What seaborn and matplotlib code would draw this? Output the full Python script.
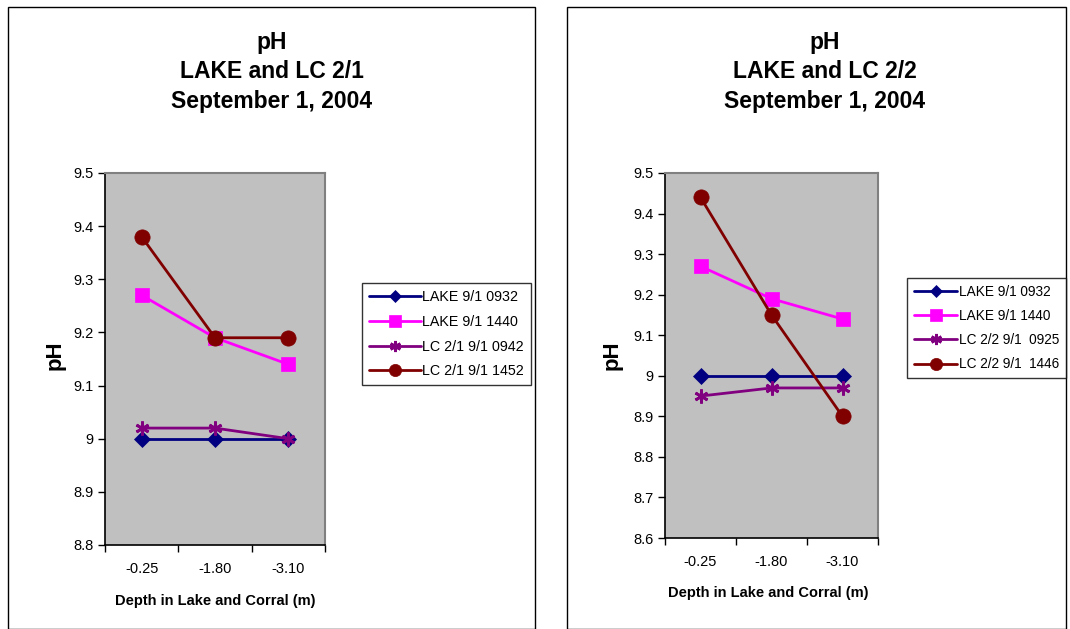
import matplotlib
matplotlib.use("Agg")
import matplotlib.pyplot as plt
from matplotlib.patches import Rectangle
import seaborn as sns
import pandas as pd

depths = ["-0.25", "-1.80", "-3.10"]

# left chart: LAKE and LC 2/1
left_names = ["LAKE 9/1 0932", "LAKE 9/1 1440", "LC 2/1 9/1 0942", "LC 2/1 9/1 1452"]
left_lake_0932 = [9.00, 9.00, 9.00]
left_lake_1440 = [9.27, 9.19, 9.14]
left_lc_0942 = [9.02, 9.02, 9.00]
left_lc_1452 = [9.38, 9.19, 9.19]

# right chart: LAKE and LC 2/2
right_names = ["LAKE 9/1 0932", "LAKE 9/1 1440", "LC 2/2 9/1  0925", "LC 2/2 9/1  1446"]
right_lake_0932 = [9.00, 9.00, 9.00]
right_lake_1440 = [9.27, 9.19, 9.14]
right_lc_0925 = [8.95, 8.97, 8.97]
right_lc_1446 = [9.44, 9.15, 8.90]

colors = ["#000080", "#FF00FF", "#800080", "#800000"]
markers = ["D", "s", (6, 2, 0), "o"]
msizes = [8, 10, 10, 11]

sns.set_theme(style="white")
plt.rcParams["font.family"] = ["Liberation Sans", "DejaVu Sans"]
plt.rcParams["text.color"] = "black"
plt.rcParams["xtick.color"] = "black"
plt.rcParams["ytick.color"] = "black"

W, H = 1070, 629
fig = plt.figure(figsize=(W / 100, H / 100), dpi=100)


def px_axes(x0, y_top, x1, y_bot):
    return fig.add_axes([x0 / W, 1 - y_bot / H, (x1 - x0) / W, (y_bot - y_top) / H])


def draw_panel(ax, names, series, ylim, yticks, title, title_x, leg_xy, ylab_x, xlab_y,
               leg_font, leg_handle):
    ax.set_facecolor("#C0C0C0")
    for name, vals, c, m, ms in zip(names, series, colors, markers, msizes):
        df = pd.DataFrame({"x": range(len(depths)), "y": vals})
        sns.lineplot(data=df, x="x", y="y", ax=ax, color=c, marker=m, markersize=ms,
                     markeredgecolor=c, markeredgewidth=2 if m == (6, 2, 0) else 0.5,
                     linewidth=2, label=name)
    handles, labels = ax.get_legend_handles_labels()
    ax.get_legend().remove()
    ax.set_xlim(-0.5, 2.5)
    ax.set_ylim(*ylim)
    ax.set_yticks(yticks)
    ax.set_yticklabels([f"{t:g}" for t in yticks], fontsize=10.5)
    ax.set_xticks([-0.5, 0.5, 1.5, 2.5])
    ax.set_xticklabels([])
    ax.set_xticks(range(len(depths)), minor=True)
    ax.set_xticklabels(depths, minor=True, fontsize=10.5)
    ax.tick_params(axis="x", which="major", direction="out", length=5, width=1, color="black", bottom=True)
    ax.tick_params(axis="x", which="minor", length=0, pad=12)
    ax.tick_params(axis="y", direction="out", length=5, width=1, color="black", left=True, pad=3)
    ax.set_xlabel("")
    ax.set_ylabel("")
    for s in ["left", "bottom"]:
        ax.spines[s].set_color("black")
        ax.spines[s].set_linewidth(1.2)
    for s in ["top", "right"]:
        ax.spines[s].set_color("#808080")
        ax.spines[s].set_linewidth(1.5)
    fig.text(title_x / W, 1 - 72 / H, title, ha="center", va="center", fontsize=16.5,
             fontweight="bold", linespacing=1.36)
    fig.text(ylab_x / W, 1 - 355 / H, "pH", ha="center", va="center", rotation=90,
             fontsize=16, fontweight="bold")
    fig.text(title_x / W - 57 / W, 1 - xlab_y / H, "Depth in Lake and Corral (m)",
             ha="center", va="center", fontsize=10.5, fontweight="bold")
    leg = fig.legend(handles, labels, loc="upper left",
                     bbox_to_anchor=(leg_xy[0] / W, 1 - leg_xy[1] / H),
                     fontsize=leg_font, frameon=True, fancybox=False, handlelength=leg_handle,
                     borderpad=0.5, labelspacing=0.75, handletextpad=0.1,
                     borderaxespad=0, markerscale=0.8)
    leg.get_frame().set_edgecolor("black")
    leg.get_frame().set_linewidth(1)


ax1 = px_axes(105, 173, 325, 545)
draw_panel(ax1, left_names, [left_lake_0932, left_lake_1440, left_lc_0942, left_lc_1452],
           (8.8, 9.5), [8.8, 8.9, 9.0, 9.1, 9.2, 9.3, 9.4, 9.5],
           "pH\nLAKE and LC 2/1\nSeptember 1, 2004", 272, (362, 283), 55, 601, 10.3, 3.6)

ax2 = px_axes(665, 173, 878, 538)
draw_panel(ax2, right_names, [right_lake_0932, right_lake_1440, right_lc_0925, right_lc_1446],
           (8.6, 9.5), [8.6, 8.7, 8.8, 8.9, 9.0, 9.1, 9.2, 9.3, 9.4, 9.5],
           "pH\nLAKE and LC 2/2\nSeptember 1, 2004", 825, (907, 278), 612, 593, 9.8, 3.2)

# panel frames
fig.add_artist(Rectangle((8 / W, 0), (535 - 8) / W, 1 - 7 / H, transform=fig.transFigure,
                         fill=False, edgecolor="black", linewidth=1))
fig.add_artist(Rectangle((567 / W, 0), (1066 - 567) / W, 1 - 7 / H, transform=fig.transFigure,
                         fill=False, edgecolor="black", linewidth=1))

fig.savefig("out.png", dpi=100)
